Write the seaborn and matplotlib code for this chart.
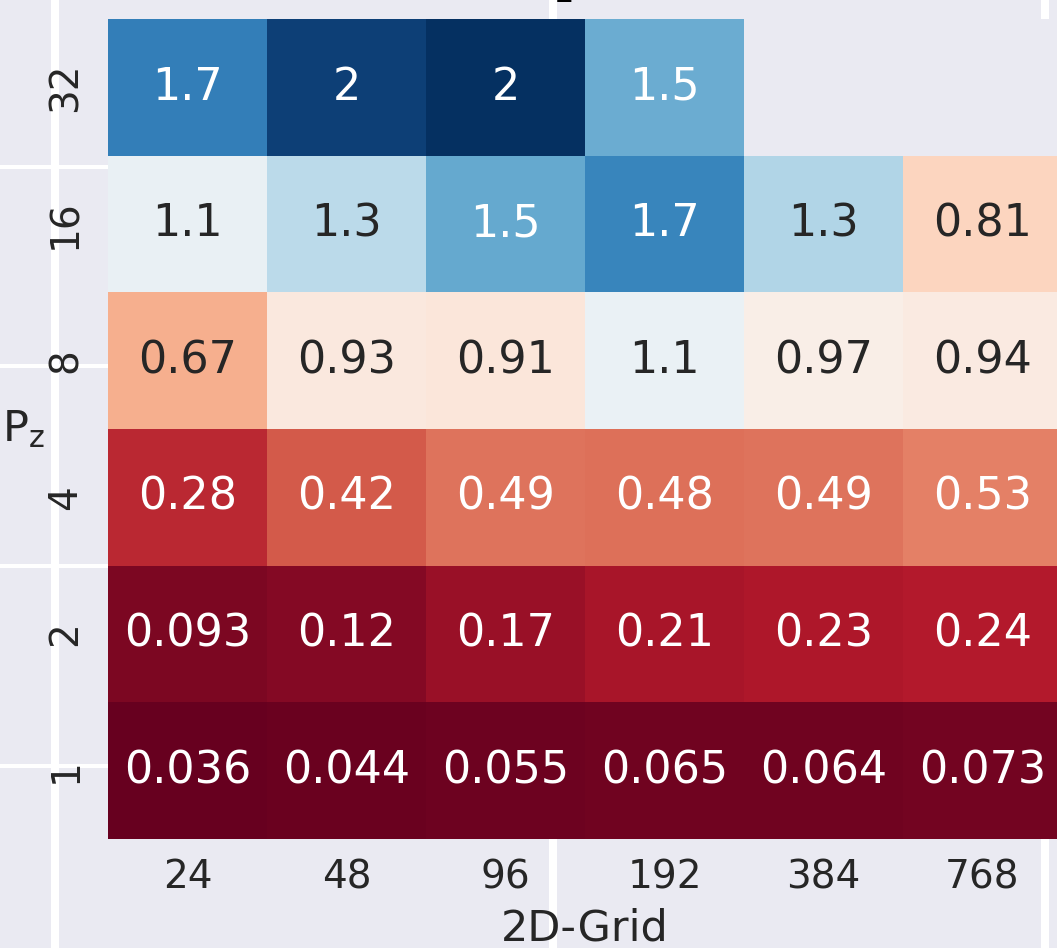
"""
Heatmap of P_z vs 2D-Grid ratios (RdBu).
"""
import numpy as np
import pandas as pd
import matplotlib
matplotlib.use('Agg')
import matplotlib.pyplot as plt
import seaborn as sns

# --- data ---
grid_sizes = [24, 48, 96, 192, 384, 768]
pz_values = [32, 16, 8, 4, 2, 1]

row_32 = [1.72, 1.97, 2.03, 1.53, np.nan, np.nan]
row_16 = [1.11, 1.30, 1.54, 1.69, 1.33, 0.81]
row_8 = [0.67, 0.93, 0.91, 1.10, 0.97, 0.94]
row_4 = [0.28, 0.42, 0.49, 0.48, 0.49, 0.53]
row_2 = [0.093, 0.12, 0.17, 0.21, 0.23, 0.24]
row_1 = [0.036, 0.044, 0.055, 0.065, 0.064, 0.073]

df = pd.DataFrame([row_32, row_16, row_8, row_4, row_2, row_1],
                  index=pz_values, columns=grid_sizes)

sns.set_theme(style='darkgrid')
FS_ANNOT = 32
FS_TICK = 28
FS_LABEL = 31

fig = plt.figure(figsize=(10.57, 9.48), dpi=100)

# background axes whose grid shows around the heatmap
bg = fig.add_axes([0, 0, 1, 1], zorder=0)
bg.set_xlim(0, 1)
bg.set_ylim(0, 1)
bg.set_xticks([0.052, 0.523, 0.989])
bg.set_yticks([0.192, 0.403, 0.614, 0.824])
bg.set_xticklabels([])
bg.set_yticklabels([])
bg.grid(axis='x', color='white', lw=5.8)
bg.grid(axis='y', color='white', lw=2.9)
for s in bg.spines.values():
    s.set_visible(False)

ax = fig.add_axes([0.1022, 0.115, 0.9025, 0.865], zorder=1)
sns.heatmap(df, cmap='RdBu', annot=True, cbar=False,
            annot_kws={'size': FS_ANNOT}, ax=ax)
ax.grid(False)
ax.set_facecolor('#EAEAF2')
ax.tick_params(axis='x', labelsize=FS_TICK, pad=8)
ax.tick_params(axis='y', labelsize=FS_TICK, pad=11, rotation=90)
for t in ax.get_yticklabels():
    t.set_va('center')

ax.set_xlabel('2D-Grid', fontsize=FS_LABEL, labelpad=8)
ax.set_ylabel(r'P$_{\rm z}$', fontsize=FS_LABEL, rotation=0, ha='center', va='center')
ax.yaxis.set_label_coords(-0.089, 0.5)
ax.set_title('Comparison', fontsize=FS_LABEL, fontfamily='serif', fontweight='bold',
             color='black', pad=19, x=0.508)

plt.savefig('out.png', dpi=100)
plt.close()
print("Saved: out.png")
